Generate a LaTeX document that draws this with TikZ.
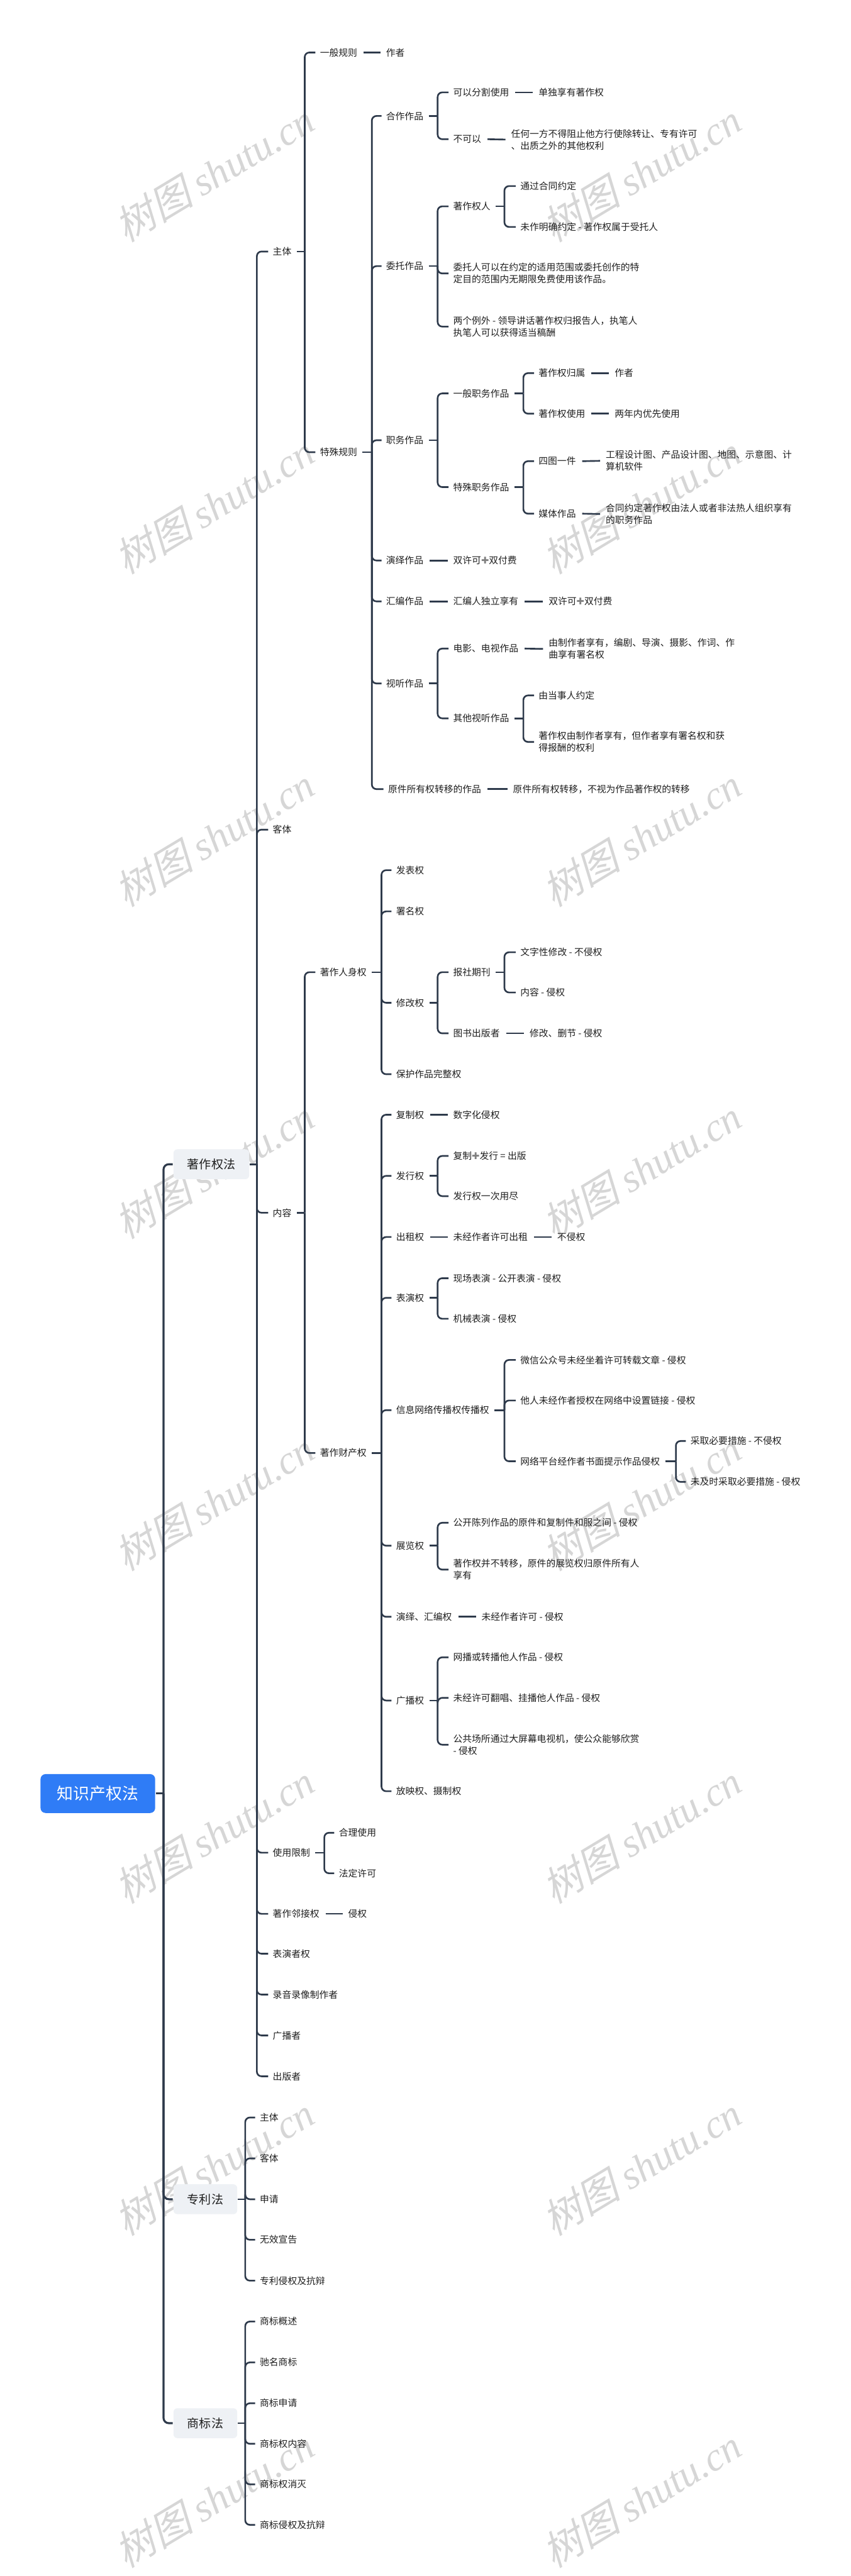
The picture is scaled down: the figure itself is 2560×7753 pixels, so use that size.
\documentclass[tikz,border=0pt]{standalone}
\usepackage{fontspec}
\setmainfont{Noto Sans CJK SC}
\newfontfamily\dejavu{DejaVu Sans}
\newfontfamily\wmcjk{Noto Sans CJK SC}[FakeSlant=0.25]
\newfontfamily\wmlat{Liberation Serif}
\usetikzlibrary{calc}
\definecolor{lc}{HTML}{2E3A4B}
\definecolor{tc}{HTML}{1F1F1F}
\definecolor{rootc}{HTML}{2F7CF6}
\definecolor{boxc}{HTML}{EEF1F5}
\definecolor{wmc}{HTML}{D6D6D6}
\newcommand\fsN{\fontsize{2.8pt}{3.6pt}\selectfont}
\newcommand\pls{{\dejavu\textcolor{gray}{✚}}}
\tikzset{
  t/.style={anchor=west, inner sep=0pt, font=\fsN, text=tc, align=left},
  conn/.style={draw=lc, line width=0.5pt},
  conn0/.style={draw=lc, line width=0.6pt},
  l1/.style={anchor=west, fill=boxc, rounded corners=1.2pt, minimum height=9pt, inner xsep=4.2pt, inner ysep=0pt, font=\fontsize{3.6pt}{4pt}\selectfont, text=tc},
  rootbox/.style={fill=rootc, rounded corners=1.5pt, minimum width=34.5pt, minimum height=11.7pt, inner sep=0pt, font=\fontsize{4.9pt}{5.5pt}\selectfont, text=white},
  wm/.style={text=wmc, rotate=31, inner sep=0pt, font=\fontsize{12pt}{12pt}\selectfont}
}
% parent, vertical x, children
\newcommand\mfork[4][14]{%
  \draw[conn] ($(#2.east)+(#1,0)$) -- (#3,0 |- #2.east);
  \foreach \c in {#4}{\draw[conn,rounded corners=1.4pt] (#3,0 |- #2.east) |- ($(\c.west)+(-12,0)$);}%
}
\newcommand\mlone[2]{\draw[conn] ($(#1.east)+(17,0)$) -- ($(#2.west)+(-15,0)$);}
\begin{document}
\begin{tikzpicture}[x=0.1pt,y=-0.1pt]
\fill[white] (0,0) rectangle (2560,7753);
\useasboundingbox (0,0) rectangle (2560,7753);
% watermarks
\foreach \yy [count=\i] in {520,1520,...,7520}{
  \node[wm] (wl\i) at (644,\yy) {{\wmcjk 树图} {\wmlat\itshape shutu.cn}};
  \node[wm] (wr\i) at (1930,\yy) {{\wmcjk 树图} {\wmlat\itshape shutu.cn}};
}
% root and level 1
\node[rootbox] (r) at (294.5,5398) {知识产权法};
\node[l1] (zz) at (520,3504) {著作权法};
\node[l1] (zl) at (520,6619) {专利法};
\node[l1] (sb) at (520,7293) {商标法};
\draw[conn0] (r.east) -- (492,0 |- r.east);
\foreach \c in {zz,zl,sb}{\draw[conn0,rounded corners=1.6pt] (492,0 |- r.east) |- (\c.west);}
% 著作权法 children
\node[t] (a1) at (819,757) {主体};
\node[t] (a2) at (819,2497) {客体};
\node[t] (a3) at (819,3650) {内容};
\node[t] (a4) at (819,5576) {使用限制};
\node[t] (a5) at (819,5760) {著作邻接权};
\node[t] (a6) at (819,5880) {表演者权};
\node[t] (a7) at (819,6003) {录音录像制作者};
\node[t] (a8) at (819,6126) {广播者};
\node[t] (a9) at (819,6249) {出版者};
\mfork[0]{zz}{773}{a1,a2,a3,a4,a5,a6,a7,a8,a9}
% 专利法
\node[t] (p1) at (780,6373) {主体};
\node[t] (p2) at (780,6496) {客体};
\node[t] (p3) at (780,6619) {申请};
\node[t] (p4) at (780,6741) {无效宣告};
\node[t] (p5) at (780,6864) {专利侵权及抗辩};
\mfork[0]{zl}{738}{p1,p2,p3,p4,p5}
% 商标法
\node[t] (s1) at (780,6987) {商标概述};
\node[t] (s2) at (780,7110) {驰名商标};
\node[t] (s3) at (780,7233) {商标申请};
\node[t] (s4) at (780,7355) {商标权内容};
\node[t] (s5) at (780,7477) {商标权消灭};
\node[t] (s6) at (780,7599) {商标侵权及抗辩};
\mfork[0]{sb}{738}{s1,s2,s3,s4,s5,s6}
% 主体
\node[t] (b1) at (961,158) {一般规则};
\node[t] (b1x) at (1160,158) {作者};
\mlone{b1}{b1x}
\node[t] (b2) at (961,1361) {特殊规则};
\mfork{a1}{917}{b1,b2}
\node[t] (c1) at (1160,349) {合作作品};
\node[t] (c2) at (1160,801) {委托作品};
\node[t] (c3) at (1160,1325) {职务作品};
\node[t] (c4) at (1160,1687) {演绎作品};
\node[t] (c5) at (1160,1810) {汇编作品};
\node[t] (c6) at (1160,2057) {视听作品};
\node[t] (c7) at (1166,2375) {原件所有权转移的作品};
\mfork{b2}{1119}{c1,c2,c3,c4,c5,c6,c7}
% 合作作品
\node[t] (c1a) at (1362,278) {可以分割使用};
\node[t] (c1ax) at (1619,278) {单独享有著作权};
\mlone{c1a}{c1ax}
\node[t] (c1b) at (1362,419) {不可以};
\node[t] (c1bx) at (1536,420) {任何一方不得阻止他方行使除转让、专有许可\\、出质之外的其他权利};
\mlone{c1b}{c1bx}
\mfork{c1}{1317}{c1a,c1b}
% 委托作品
\node[t] (c2a) at (1362,621) {著作权人};
\node[t] (c2a1) at (1564,560) {通过合同约定};
\node[t] (c2a2) at (1564,683) {未作明确约定 - 著作权属于受托人};
\mfork{c2a}{1518}{c2a1,c2a2}
\node[t] (c2b) at (1362,823) {委托人可以在约定的适用范围或委托创作的特\\定目的范围内无期限免费使用该作品。};
\node[t] (c2c) at (1362,983) {两个例外 - 领导讲话著作权归报告人，执笔人\\执笔人可以获得适当稿酬};
\mfork{c2}{1317}{c2a,c2b,c2c}
% 职务作品
\node[t] (c3a) at (1362,1184) {一般职务作品};
\node[t] (c3a1) at (1619,1123) {著作权归属};
\node[t] (c3a1x) at (1848,1123) {作者};
\mlone{c3a1}{c3a1x}
\node[t] (c3a2) at (1619,1245) {著作权使用};
\node[t] (c3a2x) at (1848,1245) {两年内优先使用};
\mlone{c3a2}{c3a2x}
\mfork{c3a}{1575}{c3a1,c3a2}
\node[t] (c3b) at (1362,1466) {特殊职务作品};
\node[t] (c3b1) at (1619,1388) {四图一件};
\node[t] (c3b1x) at (1821,1387) {工程设计图、产品设计图、地图、示意图、计\\算机软件};
\mlone{c3b1}{c3b1x}
\node[t] (c3b2) at (1619,1546) {媒体作品};
\node[t] (c3b2x) at (1821,1547) {合同约定著作权由法人或者非法热人组织享有\\的职务作品};
\mlone{c3b2}{c3b2x}
\mfork{c3b}{1575}{c3b1,c3b2}
\mfork{c3}{1317}{c3a,c3b}
% 演绎 汇编
\node[t] (c4x) at (1362,1687) {双许可\pls 双付费};
\mlone{c4}{c4x}
\node[t] (c5x) at (1362,1810) {汇编人独立享有};
\node[t] (c5y) at (1649,1810) {双许可\pls 双付费};
\mlone{c5}{c5x}
\mlone{c5x}{c5y}
% 视听作品
\node[t] (c6a) at (1362,1952) {电影、电视作品};
\node[t] (c6ax) at (1649,1953) {由制作者享有，编剧、导演、摄影、作词、作\\曲享有署名权};
\mlone{c6a}{c6ax}
\node[t] (c6b) at (1362,2162) {其他视听作品};
\node[t] (c6b1) at (1619,2093) {由当事人约定};
\node[t] (c6b2) at (1619,2233) {著作权由制作者享有，但作者享有署名权和获\\得报酬的权利};
\mfork{c6b}{1575}{c6b1,c6b2}
\mfork{c6}{1317}{c6a,c6b}
\node[t] (c7x) at (1542,2375) {原件所有权转移，不视为作品著作权的转移};
\mlone{c7}{c7x}
% 内容
\node[t] (e1) at (961,2926) {著作人身权};
\node[t] (e2) at (961,4373) {著作财产权};
\mfork{a3}{917}{e1,e2}
\node[t] (f1) at (1190,2619) {发表权};
\node[t] (f2) at (1190,2743) {署名权};
\node[t] (f3) at (1190,3018) {修改权};
\node[t] (f4) at (1190,3233) {保护作品完整权};
\mfork{e1}{1148}{f1,f2,f3,f4}
\node[t] (f3a) at (1362,2926) {报社期刊};
\node[t] (f3a1) at (1564,2866) {文字性修改 - 不侵权};
\node[t] (f3a2) at (1564,2987) {内容 - 侵权};
\mfork{f3a}{1518}{f3a1,f3a2}
\node[t] (f3b) at (1362,3110) {图书出版者};
\node[t] (f3bx) at (1592,3110) {修改、删节 - 侵权};
\mlone{f3b}{f3bx}
\mfork{f3}{1317}{f3a,f3b}
% 著作财产权
\node[t] (g1) at (1190,3355) {复制权};
\node[t] (g1x) at (1362,3355) {数字化侵权};
\mlone{g1}{g1x}
\node[t] (g2) at (1190,3539) {发行权};
\node[t] (g2a) at (1362,3479) {复制\pls 发行 = 出版};
\node[t] (g2b) at (1362,3600) {发行权一次用尽};
\mfork{g2}{1317}{g2a,g2b}
\node[t] (g3) at (1190,3723) {出租权};
\node[t] (g3x) at (1362,3723) {未经作者许可出租};
\node[t] (g3y) at (1675,3723) {不侵权};
\mlone{g3}{g3x}
\mlone{g3x}{g3y}
\node[t] (g4) at (1190,3906) {表演权};
\node[t] (g4a) at (1362,3847) {现场表演 - 公开表演 - 侵权};
\node[t] (g4b) at (1362,3969) {机械表演 - 侵权};
\mfork{g4}{1317}{g4a,g4b}
\node[t] (g5) at (1190,4244) {信息网络传播权传播权};
\node[t] (g5a) at (1564,4093) {微信公众号未经坐着许可转载文章 - 侵权};
\node[t] (g5b) at (1564,4215) {他人未经作者授权在网络中设置链接 - 侵权};
\node[t] (g5c) at (1564,4398) {网络平台经作者书面提示作品侵权};
\node[t] (g5c1) at (2076,4337) {采取必要措施 - 不侵权};
\node[t] (g5c2) at (2076,4460) {未及时采取必要措施 - 侵权};
\mfork{g5c}{2034}{g5c1,g5c2}
\mfork{g5}{1518}{g5a,g5b,g5c}
\node[t] (g6) at (1190,4652) {展览权};
\node[t] (g6a) at (1362,4583) {公开陈列作品的原件和复制件和服之间 - 侵权};
\node[t] (g6b) at (1362,4724) {著作权并不转移，原件的展览权归原件所有人\\享有};
\mfork{g6}{1317}{g6a,g6b}
\node[t] (g7) at (1190,4866) {演绎、汇编权};
\node[t] (g7x) at (1447,4866) {未经作者许可 - 侵权};
\mlone{g7}{g7x}
\node[t] (g8) at (1190,5118) {广播权};
\node[t] (g8a) at (1362,4988) {网播或转播他人作品 - 侵权};
\node[t] (g8b) at (1362,5110) {未经许可翻唱、挂播他人作品 - 侵权};
\node[t] (g8c) at (1362,5251) {公共场所通过大屏幕电视机，使公众能够欣赏\\- 侵权};
\mfork{g8}{1317}{g8a,g8b,g8c}
\node[t] (g9) at (1190,5391) {放映权、摄制权};
\mfork{e2}{1148}{g1,g2,g3,g4,g5,g6,g7,g8,g9}
% 使用限制, 著作邻接权
\node[t] (h1) at (1018,5516) {合理使用};
\node[t] (h2) at (1018,5638) {法定许可};
\mfork{a4}{976}{h1,h2}
\node[t] (a5x) at (1046,5760) {侵权};
\mlone{a5}{a5x}
\end{tikzpicture}
\end{document}
